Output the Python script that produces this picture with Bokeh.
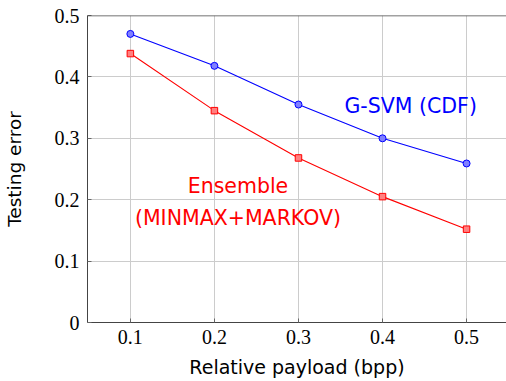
from bokeh.plotting import figure
from bokeh.models import Range1d, FixedTicker, Span
from bokeh.core.properties import value
from bokeh.embed import file_html
from bokeh.resources import INLINE

payload = [0.1, 0.2, 0.3, 0.4, 0.5]
gsvm_err = [0.470, 0.418, 0.355, 0.300, 0.259]
ensemble_err = [0.438, 0.345, 0.268, 0.205, 0.152]
x_ticks = [0.1, 0.2, 0.3, 0.4, 0.5]
y_ticks = [0, 0.1, 0.2, 0.3, 0.4, 0.5]
y_tick_labels = {0: "0", 0.1: "0.1", 0.2: "0.2", 0.3: "0.3", 0.4: "0.4", 0.5: "0.5"}

SERIF = "Liberation Serif"
SANS = "DejaVu Sans"

p = figure(width=506, height=381, output_backend="svg", toolbar_location=None,
           x_range=Range1d(0.049, 0.5475), y_range=Range1d(0, 0.5),
           min_border_left=86, min_border_right=0, min_border_top=15, min_border_bottom=59)
p.outline_line_color = None
p.background_fill_color = "white"
p.border_fill_color = "white"

for ax in (p.xaxis[0], p.yaxis[0]):
    ax.major_tick_in = 4
    ax.major_tick_out = 0
    ax.minor_tick_in = 0
    ax.minor_tick_out = 0
    ax.axis_line_color = "#444444"
    ax.major_tick_line_color = "#666666"
    ax.major_label_text_font = SERIF
    ax.major_label_text_font_size = "20px"
    ax.major_label_text_color = "#000000"
    ax.axis_label_text_font = SANS
    ax.axis_label_text_font_style = "normal"
    ax.axis_label_text_color = "#000000"

p.xaxis[0].ticker = FixedTicker(ticks=x_ticks)
p.yaxis[0].ticker = FixedTicker(ticks=y_ticks)
p.yaxis[0].major_label_overrides = y_tick_labels
p.xaxis[0].axis_label = "Relative payload (bpp)"
p.yaxis[0].axis_label = "Testing error"
p.xaxis[0].axis_label_text_font_size = "19px"
p.yaxis[0].axis_label_text_font_size = "18.5px"
p.xaxis[0].major_label_standoff = 7
p.yaxis[0].major_label_standoff = 8
p.xaxis[0].axis_label_standoff = 9
p.yaxis[0].axis_label_standoff = 27

p.add_layout(Span(location=0.5, dimension="width", line_color="#444444", line_width=1.5))

p.xgrid.ticker = FixedTicker(ticks=x_ticks)
p.ygrid.ticker = FixedTicker(ticks=y_ticks)
p.grid.grid_line_color = "#cccccc"
p.grid.grid_line_width = 1

p.line(payload, gsvm_err, line_color="#0000ff", line_width=1.1)
p.scatter(payload, gsvm_err, marker="circle", size=7, fill_color="#8080ff",
          line_color="#0000ff", line_width=1)
p.line(payload, ensemble_err, line_color="#ff0000", line_width=1.1)
p.scatter(payload, ensemble_err, marker="square", size=6.5, fill_color="#ff8080",
          line_color="#ff0000", line_width=1)

p.text(x=[0.4335], y=[0.353], text=["G-SVM (CDF)"], text_color="#0000ff",
       text_font=value(SANS), text_font_size="20.5px", text_align="center",
       text_baseline="middle")
p.text(x=[0.228, 0.228], y=[0.223, 0.171], text=["Ensemble", "(MINMAX+MARKOV)"],
       text_color="#ff0000", text_font=value(SANS), text_font_size="20.5px",
       text_align="center", text_baseline="middle")

open("out.html", "w").write(file_html(p, INLINE))
